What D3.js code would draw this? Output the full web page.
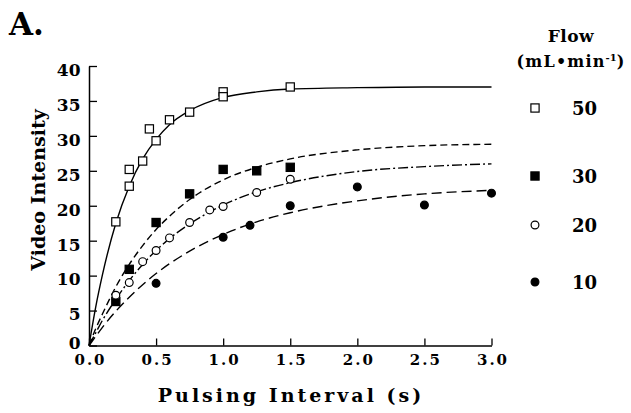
<!DOCTYPE html>
<html>
<head>
<meta charset="utf-8">
<script src="https://cdn.jsdelivr.net/npm/d3@7"></script>
<style>
  html, body { margin: 0; padding: 0; background: #fff; }
  svg { display: block; }
  text { font-family: "DejaVu Serif", serif; font-weight: bold; fill: #000; }
</style>
</head>
<body>
<svg id="chart" width="631" height="413"></svg>
<script>
// ---- data ----
const xTicks = [0, 0.5, 1.0, 1.5, 2.0, 2.5, 3.0];
const yTicks = [0, 5, 10, 15, 20, 25, 30, 35, 40];

const flowLabels = ["50", "30", "20", "10"];

const x50 = [0.2, 0.3, 0.3, 0.4, 0.45, 0.5, 0.6, 0.75, 1.0, 1.0, 1.5];
const y50 = [17.7, 22.8, 25.2, 26.4, 31.0, 29.3, 32.3, 33.4, 36.3, 35.6, 37.0];

const x30 = [0.2, 0.3, 0.5, 0.75, 1.0, 1.25, 1.5];
const y30 = [6.3, 10.9, 17.6, 21.7, 25.2, 25.0, 25.5];

const x20 = [0.2, 0.3, 0.4, 0.5, 0.6, 0.75, 0.9, 1.0, 1.25, 1.5];
const y20 = [7.2, 9.0, 12.0, 13.6, 15.4, 17.6, 19.4, 19.9, 21.9, 23.8];

const x10 = [0.5, 1.0, 1.2, 1.5, 2.0, 2.5, 3.0];
const y10 = [8.9, 15.5, 17.2, 20.0, 22.7, 20.1, 21.8];

// fitted curves
const curveX = [0, 0.05, 0.1, 0.2, 0.3, 0.4, 0.5, 0.6, 0.75, 1.0, 1.25, 1.5, 2.0, 2.5, 3.0];
const fit50 = [0, 5.5, 10.1, 17.5, 22.8, 26.7, 29.5, 31.6, 33.6, 35.5, 36.3, 36.7, 36.9, 37.0, 37.0];
const fit30 = [0, 2.4, 4.5, 8.4, 11.6, 14.3, 16.6, 18.5, 20.9, 23.7, 25.5, 26.7, 28.0, 28.6, 28.8];
const fit20 = [0, 1.8, 3.6, 6.6, 9.3, 11.6, 13.6, 15.3, 17.4, 20.1, 22.0, 23.3, 24.9, 25.6, 26.0];
const fit10 = [0, 1.3, 2.6, 4.9, 6.9, 8.7, 10.3, 11.7, 13.5, 15.9, 17.7, 19.0, 20.7, 21.7, 22.2];

// ---- layout ----
const svg = d3.select("#chart");
const x = d3.scaleLinear().domain([0, 3]).range([89, 491.5]);
const y = d3.scaleLinear().domain([0, 40]).range([345.5, 66]);

const series = [
  { xs: x50, ys: y50, fit: fit50, marker: "square", fill: "#fff", dash: null },
  { xs: x30, ys: y30, fit: fit30, marker: "square", fill: "#000", dash: "7,4" },
  { xs: x20, ys: y20, fit: fit20, marker: "circle", fill: "#fff", dash: "10,3,2,3" },
  { xs: x10, ys: y10, fit: fit10, marker: "circle", fill: "#000", dash: "10,5" }
];

// curves
const line = d3.line()
  .x(d => x(d[0]))
  .y(d => y(d[1]))
  .curve(d3.curveMonotoneX);

series.forEach(s => {
  svg.append("path")
    .datum(curveX.map((v, i) => [v, s.fit[i]]))
    .attr("d", line)
    .attr("fill", "none")
    .attr("stroke", "#000")
    .attr("stroke-width", 1.4)
    .attr("stroke-dasharray", s.dash);
});

// axes
const xAxis = d3.axisBottom(x)
  .tickValues(xTicks)
  .tickFormat(d3.format(".1f"))
  .tickSizeInner(-7)
  .tickSizeOuter(0)
  .tickPadding(8.5);

const gx = svg.append("g")
  .attr("transform", `translate(0,${y(0)})`)
  .call(xAxis);
gx.select(".domain").attr("stroke", "#000").attr("stroke-width", 1.5);
gx.selectAll(".tick line").attr("stroke", "#000").attr("stroke-width", 1.3);
gx.selectAll(".tick text")
  .style("font-family", "DejaVu Serif")
  .style("font-weight", "bold")
  .style("font-size", "15px")
  .style("letter-spacing", "2px")
  .attr("dx", "1px")
  .attr("fill", "#000");

const yAxis = d3.axisLeft(y)
  .tickValues(yTicks)
  .tickFormat(d3.format("d"))
  .tickSizeInner(-8)
  .tickSizeOuter(0)
  .tickPadding(8.5);

const gy = svg.append("g")
  .attr("transform", `translate(${x(0)},0)`)
  .call(yAxis);
gy.select(".domain").attr("stroke", "#000").attr("stroke-width", 1.5);
gy.selectAll(".tick line").attr("stroke", "#000").attr("stroke-width", 1.3);
gy.selectAll(".tick text")
  .style("font-family", "DejaVu Serif")
  .style("font-weight", "bold")
  .style("font-size", "17px")
  .attr("dy", d => d === 0 ? "0.2em" : "0.55em")
  .attr("fill", "#000");

// markers
function drawMarker(g, kind, fill, cx, cy) {
  if (kind === "square") {
    g.append("rect")
      .attr("x", cx - 4.1).attr("y", cy - 4.1)
      .attr("width", 8.2).attr("height", 8.2)
      .attr("fill", fill).attr("stroke", "#000").attr("stroke-width", 1.2);
  } else {
    g.append("circle")
      .attr("cx", cx).attr("cy", cy).attr("r", 3.9)
      .attr("fill", fill).attr("stroke", "#000").attr("stroke-width", 1.2);
  }
}

const gm = svg.append("g");
series.forEach(s => {
  s.xs.forEach((v, i) => drawMarker(gm, s.marker, s.fill, x(v), y(s.ys[i])));
});

// titles
svg.append("text")
  .attr("x", 9).attr("y", 35)
  .style("font-size", "31px")
  .text("A.");

svg.append("text")
  .attr("x", 291).attr("y", 401.5)
  .attr("text-anchor", "middle")
  .style("font-size", "19px")
  .style("letter-spacing", "3px")
  .text("Pulsing Interval (s)");

svg.append("text")
  .attr("transform", "translate(45,190) rotate(-90)")
  .attr("text-anchor", "middle")
  .style("font-size", "19px")
  .text("Video Intensity");

// legend
svg.append("text")
  .attr("x", 571).attr("y", 42)
  .attr("text-anchor", "middle")
  .style("font-size", "17px")
  .style("letter-spacing", "0.5px")
  .text("Flow");

const unit = svg.append("text")
  .attr("x", 571).attr("y", 67)
  .attr("text-anchor", "middle")
  .style("font-size", "16px")
  .style("letter-spacing", "1.2px");
unit.append("tspan").text("(mL\u2022min");
unit.append("tspan").attr("dy", -6).style("font-size", "10px").style("letter-spacing", "0px").text("-1");
unit.append("tspan").attr("dy", 6).text(")");

const legendRowY = [108, 176, 225, 282];
const lg = svg.append("g");
series.forEach((s, i) => {
  drawMarker(lg, s.marker, s.fill, 535, legendRowY[i]);
  lg.append("text")
    .attr("x", 572).attr("y", legendRowY[i] + 6.5)
    .style("font-size", "18px")
    .text(flowLabels[i]);
});
</script>
</body>
</html>
